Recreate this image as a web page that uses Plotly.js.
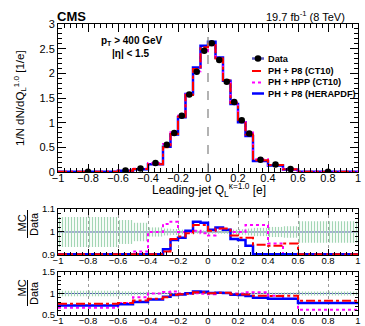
<!DOCTYPE html>
<html>
<head>
<meta charset="utf-8">
<script src="https://cdn.plot.ly/plotly-3.0.1.min.js"></script>
<style>
  html, body { margin: 0; padding: 0; background: #fff; }
  #chart { width: 365px; height: 326px; }
</style>
</head>
<body>
<div id="chart"></div>
<script>
// bin edges of the leading-jet charge histogram
const binEdges = [-1, -0.6, -0.5, -0.4, -0.3, -0.25, -0.2, -0.15, -0.1, -0.05, 0,
                  0.05, 0.1, 0.15, 0.2, 0.25, 0.3, 0.4, 0.5, 0.6, 1];

const dataVals = [0.005, 0.03, 0.07, 0.18, 0.55, 0.79, 1.14, 1.57, 2.03, 2.46,
                  2.61, 2.27, 1.83, 1.42, 1.05, 0.78, 0.25, 0.15, 0.06, 0.005];

const mcCT10 = [0.004, 0.023, 0.059, 0.158, 0.50, 0.77, 1.12, 1.56, 2.09, 2.53,
                2.62, 2.30, 1.86, 1.40, 1.02, 0.76, 0.236, 0.141, 0.057, 0.004];
const mcHPP  = [0.003, 0.023, 0.064, 0.18, 0.57, 0.83, 1.14, 1.57, 2.04, 2.45,
                2.57, 2.30, 1.85, 1.42, 1.05, 0.80, 0.258, 0.143, 0.053, 0.003];
const mcHERA = [0.004, 0.023, 0.056, 0.155, 0.51, 0.76, 1.11, 1.58, 2.12, 2.56,
                2.64, 2.32, 1.85, 1.38, 1.01, 0.73, 0.225, 0.13, 0.053, 0.004];

// MC / Data
const ratioCT10 = [0.76, 0.78, 0.84, 0.88, 0.915, 0.97, 0.98, 0.995, 1.03, 1.03,
                   1.005, 1.015, 1.015, 0.985, 0.975, 0.975, 0.945, 0.94, 0.95, 0.83];
const ratioHPP  = [0.67, 0.78, 0.915, 1.0, 1.035, 1.045, 1.0, 1.0, 1.005, 0.995,
                   0.985, 1.015, 1.01, 1.0, 1.0, 1.03, 1.03, 0.95, 0.88, 0.62];
const ratioHERA = [0.72, 0.75, 0.80, 0.86, 0.925, 0.965, 0.975, 1.005, 1.045, 1.04,
                   1.01, 1.02, 1.01, 0.97, 0.965, 0.94, 0.90, 0.875, 0.875, 0.78];

// relative data uncertainty (half width of the green band)
const dataRelErr = [0.065, 0.052, 0.04, 0.02, 0.015, 0.013, 0.01, 0.008, 0.007, 0.007,
                    0.007, 0.007, 0.008, 0.01, 0.012, 0.015, 0.018, 0.022, 0.025, 0.047];

const FONT = 'Liberation Sans, Arial, Helvetica, sans-serif';
const BLUE = '#0000ff';
const RED = '#ff0000';
const MAGENTA = '#ff00ff';

const binCenters = [];
const binWidths = [];
for( let i = 0; i < binEdges.length - 1; i++ ) {
  binCenters.push( (binEdges[i] + binEdges[i+1]) / 2 );
  binWidths.push( binEdges[i+1] - binEdges[i] );
}

// histogram outline, values below floor drawn on the frame like ROOT does
function steps( values, floor ) {
  const y = values.map( v => (floor !== undefined ? Math.max(v, floor) : v) );
  y.push( y[y.length - 1] );
  return { x: binEdges.slice(), y: y };
}

function histTrace( values, xa, ya, line, floor ) {
  const s = steps( values, floor );
  return { x: s.x, y: s.y, xaxis: xa, yaxis: ya, mode: 'lines',
           line: Object.assign( { shape: 'hv' }, line ), hoverinfo: 'skip' };
}

function bandTrace( xa, ya ) {
  return {
    type: 'bar', x: binCenters, width: binWidths, xaxis: xa, yaxis: ya,
    base: dataRelErr.map( e => 1 - e ),
    y: dataRelErr.map( e => 2 * e ),
    marker: { color: 'rgba(0,0,0,0)', line: { width: 0 },
              pattern: { shape: '|', fgcolor: '#a3d6b4', bgcolor: 'rgba(0,0,0,0)', size: 3, solidity: 0.4 } },
    hoverinfo: 'skip'
  };
}

const blueLine = { color: BLUE, width: 2.5 };
const redLine = { color: RED, width: 2, dash: 'dashdot' };
const magLine = { color: MAGENTA, width: 2, dash: 'dot' };

const data = [
  histTrace( mcHERA, 'x', 'y', blueLine ),
  histTrace( mcHPP, 'x', 'y', magLine ),
  histTrace( mcCT10, 'x', 'y', redLine ),
  { x: binCenters, y: dataVals, xaxis: 'x', yaxis: 'y', mode: 'markers',
    marker: { color: '#000', size: 6.5 }, hoverinfo: 'skip' },

  bandTrace( 'x2', 'y2' ),
  histTrace( ratioHPP, 'x2', 'y2', magLine, 0.903 ),
  histTrace( ratioHERA, 'x2', 'y2', blueLine, 0.903 ),
  histTrace( ratioCT10, 'x2', 'y2', redLine, 0.903 ),

  bandTrace( 'x3', 'y3' ),
  histTrace( ratioHPP, 'x3', 'y3', magLine ),
  histTrace( ratioHERA, 'x3', 'y3', blueLine ),
  histTrace( ratioCT10, 'x3', 'y3', redLine )
];

const axisBase = {
  showline: true, linecolor: '#000', linewidth: 1, mirror: 'allticks',
  ticks: 'inside', tickcolor: '#000', zeroline: false, showgrid: false,
  fixedrange: true
};

function xAxis( anchor, opts ) {
  return Object.assign( {}, axisBase, {
    anchor: anchor, domain: [0, 1], range: [-1, 1],
    tickmode: 'linear', tick0: -1, dtick: 0.2
  }, opts );
}

function yAxis( anchor, opts ) {
  return Object.assign( {}, axisBase, { anchor: anchor, tickmode: 'linear' }, opts );
}

const ratioGrid = { showgrid: true, gridcolor: '#9a9a9a', griddash: 'dot', gridwidth: 1 };

// pixel helpers for paper coordinates (plot area 58..358 x 24..315)
const px = v => (v - 58) / 300;
const py = v => (315 - v) / 291;

const annotations = [
  { text: '<b>CMS</b>', x: px(55), y: py(16), xanchor: 'left', yanchor: 'middle', font: { size: 13 } },
  { text: '19.7 fb<sup>-1</sup> (8 TeV)', x: px(347), y: py(16), xanchor: 'right', yanchor: 'middle', font: { size: 11 } },
  { text: '<b>p<sub>T</sub> &gt; 400 GeV</b>', x: px(132), y: py(41), xanchor: 'center', yanchor: 'middle', font: { size: 10 } },
  { text: '<b>|η| &lt; 1.5</b>', x: px(130), y: py(54), xanchor: 'center', yanchor: 'middle', font: { size: 10 } },
  { text: '1/N dN/dQ<sub>L</sub><sup>1.0</sup> [1/e]', x: px(20), y: py(98), textangle: -90,
    xanchor: 'center', yanchor: 'middle', font: { size: 11.5 } },
  { text: 'Leading-jet Q<sub>L</sub><sup>κ=1.0</sup> [e]', x: px(209), y: py(190),
    xanchor: 'center', yanchor: 'middle', font: { size: 12 } },

  { text: 'MC', x: px(21.5), y: py(223), textangle: -90, xanchor: 'center', yanchor: 'middle', font: { size: 11 } },
  { text: 'Data', x: px(34), y: py(224), textangle: -90, xanchor: 'center', yanchor: 'middle', font: { size: 11 } },
  { text: 'MC', x: px(21.5), y: py(288), textangle: -90, xanchor: 'center', yanchor: 'middle', font: { size: 11 } },
  { text: 'Data', x: px(34), y: py(293), textangle: -90, xanchor: 'center', yanchor: 'middle', font: { size: 11 } }
];

const legendRows = [
  { text: 'Data', y: 58.5 },
  { text: 'PH + P8 (CT10)', y: 71, line: redLine },
  { text: 'PH + HPP (CT10)', y: 82.5, line: magLine },
  { text: 'PH + P8 (HERAPDF)', y: 93.5, line: blueLine }
];

const shapes = [
  // dashed line at zero charge
  { type: 'line', xref: 'x', yref: 'y domain', x0: 0, x1: 0, y0: 0, y1: 1,
    line: { color: '#8a8a8a', width: 1.3, dash: 'dash' } },
  // unity lines
  { type: 'line', xref: 'x2', yref: 'y2', x0: -1, x1: 1, y0: 1, y1: 1, layer: 'below',
    line: { color: '#4a58a8', width: 1 } },
  { type: 'line', xref: 'x3', yref: 'y3', x0: -1, x1: 1, y0: 1, y1: 1, layer: 'below',
    line: { color: '#4a58a8', width: 1 } },
  // fraction bars of the ratio titles
  { type: 'line', xref: 'paper', yref: 'paper', x0: px(27.5), x1: px(27.5), y0: py(210), y1: py(238),
    line: { color: '#000', width: 1 } },
  { type: 'line', xref: 'paper', yref: 'paper', x0: px(27.5), x1: px(27.5), y0: py(280), y1: py(306),
    line: { color: '#000', width: 1 } }
];

legendRows.forEach( function( row ) {
  if( row.line ) {
    shapes.push( { type: 'line', xref: 'paper', yref: 'paper', x0: px(252), x1: px(264),
                   y0: py(row.y), y1: py(row.y), line: row.line } );
  } else {
    shapes.push( { type: 'line', xref: 'paper', yref: 'paper', x0: px(252), x1: px(264),
                   y0: py(row.y), y1: py(row.y), line: { color: '#5a5ac0', width: 2.5 } } );
    shapes.push( { type: 'circle', xref: 'paper', yref: 'paper', x0: px(254.7), x1: px(261.3),
                   y0: py(61.8), y1: py(55.2), fillcolor: '#000', line: { width: 0 } } );
  }
  annotations.push( { text: '<b>' + row.text + '</b>', x: px(266), y: py(row.y),
                      xanchor: 'left', yanchor: 'middle', font: { size: 9.2 } } );
});

annotations.forEach( a => { a.xref = 'paper'; a.yref = 'paper'; a.showarrow = false; } );

const layout = {
  width: 365, height: 326,
  margin: { l: 58, r: 7, t: 24, b: 11, autoexpand: false },
  paper_bgcolor: '#fff', plot_bgcolor: '#fff',
  font: { family: FONT, color: '#000', size: 11 },
  showlegend: false, hovermode: false, barmode: 'overlay',

  xaxis: xAxis( 'y', { ticklen: 8, tickfont: { size: 11 }, ticklabelstandoff: -4,
    minor: { ticks: 'inside', tick0: -1, dtick: 0.04, ticklen: 4, tickcolor: '#000' } } ),
  yaxis: yAxis( 'x', { domain: [0.4914, 1], range: [0, 3], tick0: 0, dtick: 0.5, ticklen: 8,
    tickfont: { size: 11 },
    minor: { ticks: 'inside', tick0: 0, dtick: 0.1, ticklen: 4, tickcolor: '#000' } } ),

  xaxis2: xAxis( 'y2', Object.assign( { ticklen: 6, tickfont: { size: 9.5 }, ticklabelstandoff: -3,
    minor: { ticks: 'inside', tick0: -1, dtick: 0.04, ticklen: 3, tickcolor: '#000' } }, ratioGrid ) ),
  yaxis2: yAxis( 'x2', { domain: [0.2062, 0.3643], range: [0.9, 1.1], tick0: 0.9, dtick: 0.1, ticklen: 6,
    tickfont: { size: 9.5 },
    minor: { ticks: 'inside', tick0: 0.9, dtick: 0.02, ticklen: 3, tickcolor: '#000' } } ),

  xaxis3: xAxis( 'y3', Object.assign( { ticklen: 6, tickfont: { size: 9.5 }, ticklabelstandoff: -3,
    minor: { ticks: 'inside', tick0: -1, dtick: 0.04, ticklen: 3, tickcolor: '#000' } }, ratioGrid ) ),
  yaxis3: yAxis( 'x3', { domain: [0, 0.1478], range: [0.5, 1.5], tick0: 0.5, dtick: 0.5, ticklen: 6,
    tickfont: { size: 9.5 },
    minor: { ticks: 'inside', tick0: 0.5, dtick: 0.1, ticklen: 3, tickcolor: '#000' } } ),

  shapes: shapes,
  annotations: annotations
};

Plotly.newPlot( document.getElementById('chart'), data, layout, { staticPlot: true, displayModeBar: false } );
</script>
</body>
</html>
